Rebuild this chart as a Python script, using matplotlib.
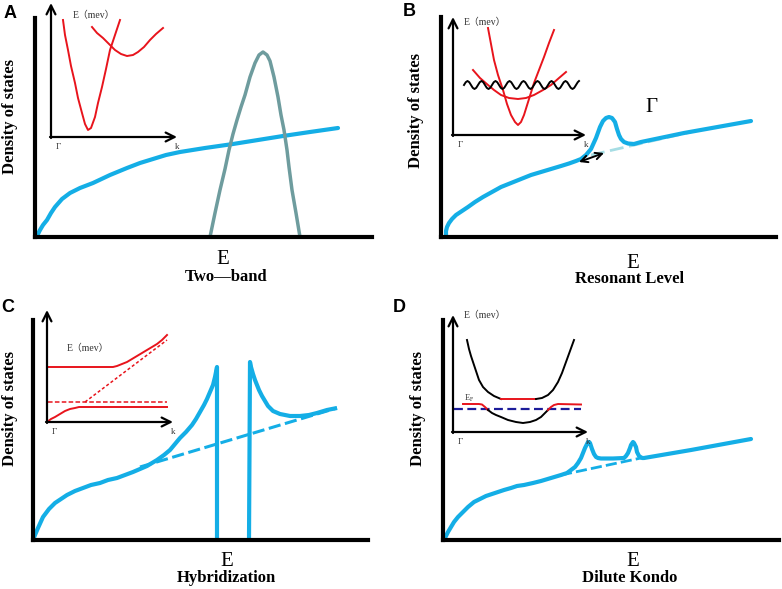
import matplotlib.pyplot as plt

BLUE = '#14aee6'
GRAY = '#6e9c9e'
RED = '#e8141c'
SERIF = ['Liberation Serif', 'Noto Sans CJK SC', 'DejaVu Serif']

# ---------------- data (arbitrary units) ----------------
# panel A: two bands
a_dos_x = [1, 3, 5, 8, 12, 16, 20, 27, 35, 45, 58, 75, 92, 105, 118, 131, 145,
           170, 198, 223, 248, 275, 303]
a_dos_y = [0, 3, 7, 12, 17, 24, 30, 38, 44, 49, 54, 62, 69, 74, 78, 82, 85,
           89, 93, 97, 101, 105, 109]
a_band_x = [175, 180, 185, 190, 194, 198, 202, 206, 210, 215, 220, 224, 228,
            232, 235, 239, 243, 246, 249, 252, 254, 257, 261, 265]
a_band_y = [0, 24, 47, 68, 87, 103, 117, 130, 142, 160, 174, 182, 185, 182,
            176, 160, 140, 122, 107, 87, 70, 47, 24, 0]
a_in1_x = [12, 14, 17, 20, 24, 27, 31, 34, 37, 40, 44, 47, 51, 55, 59, 64, 69]
a_in1_y = [117, 102, 87, 71, 54, 39, 24, 13, 7, 9, 20, 34, 50, 68, 87, 102, 117]
a_in2_x = [41, 46, 52, 58, 64, 70, 76, 82, 87, 93, 99, 105, 112]
a_in2_y = [110, 104, 99, 93, 87, 83, 81, 82, 85, 90, 97, 103, 109]

# panel B: resonant level
b_dos_x = [5, 5, 6, 8, 11, 15, 21, 27, 34, 42, 51, 60, 70, 80, 90, 100, 110,
           120, 128, 135, 140, 145, 150, 155, 159, 162, 165, 168, 171, 174, 176,
           178, 180, 183, 187, 193, 200, 243, 310]
b_dos_y = [2, 6, 10, 14, 18, 22, 26, 30, 35, 40, 45, 50, 54, 58, 62, 65, 68,
           71, 73.5, 76, 78, 82, 88, 99, 110, 116, 119, 120, 119, 115, 108,
           102, 98, 95, 93.5, 93, 95, 104, 116]
b_base_x = [150, 250]
b_base_y = [82, 105]
b_in1_x = [35, 38, 41, 45, 50, 54, 58, 62, 65, 68, 71, 76, 81, 86, 91, 96, 101]
b_in1_y = [107, 91, 75, 60, 45, 31, 20, 13, 10, 13, 20, 36, 52, 65, 78, 92, 105]
b_in2_x = [20, 27, 35, 41, 48, 56, 65, 73, 81, 90, 98, 106, 113]
b_in2_y = [65, 57, 50, 45, 40, 37, 36, 37, 40, 45, 50, 57, 63]
b_wave_x = [11.0, 12.75, 14.5, 16.25, 18.0, 19.75, 21.5, 23.25, 25.0, 26.75,
            28.5, 30.25, 32.0, 33.75, 35.5, 37.25, 39.0, 40.75, 42.5, 44.25,
            46.0, 47.75, 49.5, 51.25, 53.0, 54.75, 56.5, 58.25, 60.0, 61.75,
            63.5, 65.25, 67.0, 68.75, 70.5, 72.25, 74.0, 75.75, 77.5, 79.25,
            81.0, 82.75, 84.5, 86.25, 88.0, 89.75, 91.5, 93.25, 95.0, 96.75,
            98.5, 100.25, 102.0, 103.75, 105.5, 107.25, 109.0, 110.75, 112.5,
            114.25, 116.0, 117.75, 119.5, 121.25, 123.0, 124.75, 126.0]
b_wave_y = [50, 52.8, 54, 52.8, 50, 47.2, 46, 47.2, 50, 52.8, 54, 52.8, 50,
            47.2, 46, 47.2, 50, 52.8, 54, 52.8, 50, 47.2, 46, 47.2, 50, 52.8,
            54, 52.8, 50, 47.2, 46, 47.2, 50, 52.8, 54, 52.8, 50, 47.2, 46,
            47.2, 50, 52.8, 54, 52.8, 50, 47.2, 46, 47.2, 50, 52.8, 54, 52.8,
            50, 47.2, 46, 47.2, 50, 52.8, 54, 52.8, 50, 47.2, 46, 47.2, 50,
            52.8, 54]

# panel C: hybridization
c_lo_x = [0, 2, 5, 10, 16, 22, 28, 34, 42, 50, 58, 67, 75, 84, 92, 100, 107,
          114, 119, 124, 131, 137, 142, 147, 153, 159, 163, 167, 171, 174, 177,
          180, 182, 184, 184]
c_lo_y = [0, 5, 12, 23, 31, 37, 41, 45, 49, 52, 55, 57, 60, 62, 65, 68, 71,
          74, 77, 80, 85, 90, 96, 102, 108, 115, 121, 128, 135, 141, 148, 155,
          163, 173, 0]
c_hi_x = [216, 217, 218, 220, 222, 224, 226, 229, 232, 235, 240, 247, 257, 267,
          276, 284, 294, 304]
c_hi_y = [0, 178, 173, 166, 160, 155, 150, 144, 139, 134, 129, 126, 124, 124,
          125, 127, 130, 132]
c_base_x = [107, 304]
c_base_y = [73, 132]
c_up_x = [1, 66, 70, 75, 80, 85, 90, 95, 100, 105, 110, 115, 120]
c_up_y = [55, 55, 56, 58, 60, 63, 66, 69, 72, 75, 78, 82, 87]
c_dn_x = [0, 4, 8, 13, 18, 23, 28, 32, 36, 120]
c_dn_y = [0, 3, 5, 8, 11, 13, 14, 15, 15, 15]
c_flat_x = [1, 120]
c_flat_y = [20, 20]
c_diag_x = [38, 120]
c_diag_y = [20, 82]

# panel D: dilute Kondo
d_dos_x = [1, 3, 5, 8, 11, 15, 20, 25, 31, 37, 43, 49, 55, 61, 68, 74, 81, 90,
           98, 108, 118, 124, 128, 132, 135, 138, 140, 142, 144, 145, 146, 147,
           149, 151, 153, 155, 158, 170, 181, 183, 185, 187, 188, 190, 191, 193,
           194, 196, 199, 201, 248, 308]
d_dos_y = [0, 4, 8, 13, 18, 23, 28, 33, 38, 41, 44, 46, 48, 50, 52, 54, 55, 57,
           59, 62, 65, 67, 70, 73, 77, 82, 87, 92, 96, 98, 98, 97, 91, 86, 83,
           82, 81.5, 81.5, 82, 84, 87, 92, 95, 98, 97, 93, 88, 84, 82, 82, 90,
           101]
d_base_x = [118, 198]
d_base_y = [65, 82]
d_u_left_x = [14, 16, 18, 20, 23, 26, 30, 35, 41, 48]
d_u_left_y = [92, 83, 76, 70, 61, 52, 45, 40, 36, 33]
d_u_mid_x = [48, 83]
d_u_mid_y = [33, 33]
d_u_right_x = [83, 89, 95, 100, 105, 109, 113, 117, 121]
d_u_right_y = [33, 34, 37, 42, 50, 59, 70, 81, 92]
d_l_left_x = [10, 26, 29, 32, 35]
d_l_left_y = [28, 28, 27.5, 25, 22]
d_l_mid_x = [35, 39, 43, 48, 55, 63, 70, 77, 83, 88, 92, 95]
d_l_mid_y = [22, 19, 17, 15, 12, 10, 9, 10, 12, 15, 19, 22]
d_l_right_x = [95, 98, 101, 105, 128]
d_l_right_y = [22, 25, 27, 28, 27.5]
d_ef_x = [1, 128]
d_ef_y = [23, 23]

FIG_W, FIG_H = 782, 589
fig = plt.figure(figsize=(7.82, 5.89), dpi=100)


def main_axes(x0, y0, w, h):
    ax = fig.add_axes([x0 / FIG_W, (FIG_H - y0) / FIG_H, w / FIG_W, h / FIG_H])
    ax.set_xlim(0, w)
    ax.set_ylim(0, h)
    for s in ['top', 'right']:
        ax.spines[s].set_visible(False)
    for s in ['left', 'bottom']:
        ax.spines[s].set_linewidth(3)
    ax.set_xticks([])
    ax.set_yticks([])
    ax.patch.set_alpha(0)
    return ax


def inset_axes(x0, y0, w, h):
    ax = fig.add_axes([x0 / FIG_W, (FIG_H - y0) / FIG_H, w / FIG_W, h / FIG_H])
    ax.set_xlim(0, w)
    ax.set_ylim(0, h)
    ax.axis('off')
    ap = dict(arrowstyle='->', lw=1.6, color='black', mutation_scale=16,
              shrinkA=0, shrinkB=0)
    ax.annotate('', xy=(w, 0), xytext=(-1, 0), arrowprops=ap, annotation_clip=False)
    ax.annotate('', xy=(0, h), xytext=(0, -1), arrowprops=ap, annotation_clip=False)
    ax.text(7, -6, 'Γ', fontsize=6.5, family=SERIF, ha='center', va='top', color='#333333')
    ax.text(w, -6, 'k', fontsize=6.5, family=SERIF, ha='center', va='top', color='#333333')
    return ax


def labels(ax, letter, lpos, epos, name, npos, dpos):
    ax.text(*lpos, letter, fontsize=13, fontweight='bold', family='Liberation Sans',
            ha='center', va='center', clip_on=False)
    ax.text(*epos, 'E', fontsize=15, family=SERIF, ha='center', va='center', clip_on=False)
    ax.text(*npos, name, fontsize=12, fontweight='bold', family=SERIF,
            ha='center', va='center', clip_on=False)
    ax.text(*dpos, 'Density of states', fontsize=12, fontweight='bold', family=SERIF,
            rotation=90, ha='center', va='center', clip_on=False)


# ---------------- A ----------------
ax = main_axes(35, 237, 337, 219)
ax.plot(a_dos_x, a_dos_y, color=BLUE, lw=3, solid_capstyle='round', clip_on=False)
ax.plot(a_band_x, a_band_y, color=GRAY, lw=2.5, clip_on=False)
labels(ax, 'A', (-25, 224), (188, -23), 'Two—band', (191, -40), (-25, 120))
ins = inset_axes(51, 137, 126, 134)
ins.plot(a_in1_x, a_in1_y, color=RED, lw=1.4, clip_on=False)
ins.plot(a_in2_x, a_in2_y, color=RED, lw=1.4, clip_on=False)
ins.text(22, 122, 'E（mev）', fontsize=7, family=SERIF, va='center', color='#333333')

# ---------------- B ----------------
ax = main_axes(441, 237, 335, 220)
ax.plot(b_base_x, b_base_y, color='#a6dde4', lw=2, ls=(0, (5, 2)), clip_on=False)
ax.plot(b_dos_x, b_dos_y, color=BLUE, lw=3, solid_capstyle='round', clip_on=False)
ax.annotate('', xy=(138, 75), xytext=(163, 84),
            arrowprops=dict(arrowstyle='<->', lw=1.4, color='black', mutation_scale=12,
                            shrinkA=0, shrinkB=0))
ax.text(210, 130, 'Γ', fontsize=15, family=SERIF, ha='center', va='center')
labels(ax, 'B', (-32, 225), (192, -26), 'Resonant Level', (189, -42), (-25, 127))
ins = inset_axes(453, 135, 133, 118)
ins.plot(b_in1_x, b_in1_y, color=RED, lw=1.4, clip_on=False)
ins.plot(b_in2_x, b_in2_y, color=RED, lw=1.4, clip_on=False)
ins.plot(b_wave_x, b_wave_y, color='black', lw=1.4, clip_on=False)
ins.text(11, 113, 'E（mev）', fontsize=7, family=SERIF, va='center', color='#333333')

# ---------------- C ----------------
ax = main_axes(33, 540, 335, 220)
ax.plot(c_base_x, c_base_y, color=BLUE, lw=2.2, ls=(0, (4, 1.5)), clip_on=False)
ax.plot(c_lo_x, c_lo_y, color=BLUE, lw=3, solid_capstyle='butt', clip_on=False)
ax.plot(c_hi_x, c_hi_y, color=BLUE, lw=3, solid_capstyle='butt', clip_on=False)
labels(ax, 'C', (-25, 233), (194, -22), 'Hybridization', (193, -38), (-23, 132))
ins = inset_axes(47, 422, 126, 112)
ins.plot(c_up_x, c_up_y, color=RED, lw=1.4, clip_on=False)
ins.plot(c_dn_x, c_dn_y, color=RED, lw=1.4, clip_on=False)
ins.plot(c_flat_x, c_flat_y, color=RED, lw=1.1, ls=(0, (3, 1.5)), clip_on=False)
ins.plot(c_diag_x, c_diag_y, color=RED, lw=1.1, ls=(0, (2, 1.5)), clip_on=False)
ins.text(20, 74, 'E（mev）', fontsize=7, family=SERIF, va='center', color='#333333')

# ---------------- D ----------------
ax = main_axes(443, 540, 336, 220)
ax.plot(d_base_x, d_base_y, color=BLUE, lw=2, ls=(0, (4, 1.5)), clip_on=False)
ax.plot(d_dos_x, d_dos_y, color=BLUE, lw=3, solid_capstyle='round', clip_on=False)
labels(ax, 'D', (-44, 232), (190, -22), 'Dilute Kondo', (187, -38), (-25, 132))
ins = inset_axes(453, 432, 135, 117)
ins.plot(d_ef_x, d_ef_y, color='#1c1c9a', lw=1.6, ls=(0, (4, 2)), clip_on=False)
ins.plot(d_u_left_x, d_u_left_y, color='black', lw=1.4, clip_on=False)
ins.plot(d_u_mid_x, d_u_mid_y, color=RED, lw=1.4, clip_on=False)
ins.plot(d_u_right_x, d_u_right_y, color='black', lw=1.4, clip_on=False)
ins.plot(d_l_left_x, d_l_left_y, color=RED, lw=1.4, clip_on=False)
ins.plot(d_l_mid_x, d_l_mid_y, color='black', lw=1.4, clip_on=False)
ins.plot(d_l_right_x, d_l_right_y, color=RED, lw=1.4, clip_on=False)
ins.text(11, 117, 'E（mev）', fontsize=7, family=SERIF, va='center', color='#333333')
ins.text(11, 34, '$\\mathregular{E_F}$', fontsize=6, family=SERIF, va='center',
         color='#333333')

fig.savefig('out.png', dpi=100)
